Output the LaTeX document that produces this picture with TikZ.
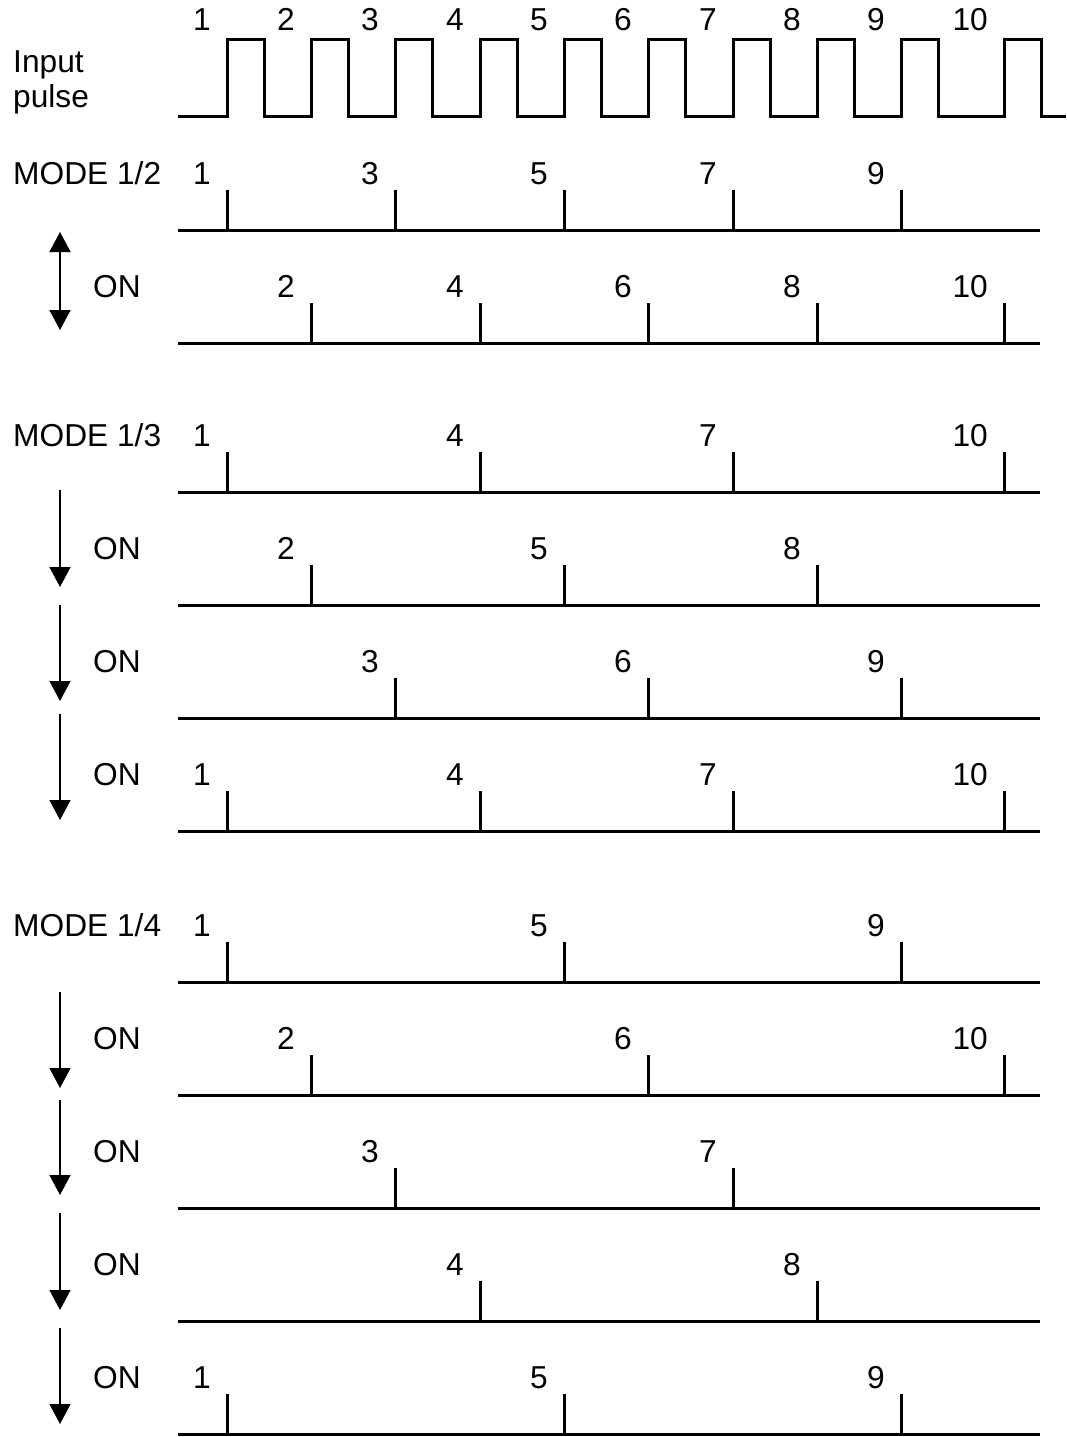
\documentclass[tikz,border=0pt]{standalone}
\usepackage{fontspec}
\setmainfont{Liberation Sans}
\usetikzlibrary{arrows.meta}
\begin{document}
\begin{tikzpicture}[x=1pt,y=-1pt,
  txt/.style={inner sep=0pt,font=\fontsize{31.7}{38}\selectfont},
  wave/.style={line width=3pt},
  onarrow/.style={line width=1.5pt,-{Triangle[length=20pt,width=21pt]}},
  botharrow/.style={line width=1.5pt,{Triangle[length=20pt,width=21pt]}-{Triangle[length=20pt,width=21pt]}}]
\useasboundingbox (0,0) rectangle (1066,1437);
% input pulse
\draw[wave] (178,116) foreach \e in {227,311,395,480,564,648,733,817,901,1004} { -- (\e,116) -- (\e,40) -- ({\e+37},40) -- ({\e+37},116) } -- (1066,116);
\foreach \i in {1,...,10} {
  \pgfmathsetmacro\ex{{227,311,395,480,564,648,733,817,901,1004}[\i-1]}
  \node[txt,anchor=base east] (p\i) at (\ex-16,31) {\i};
}
\node[txt,anchor=base west] (inp) at (13,72) {Input};
\node[txt,anchor=base west] (pls) at (13,107) {pulse};
% rows
\foreach \rb/\list [count=\r] in {230/{1,3,5,7,9},343/{2,4,6,8,10},492/{1,4,7,10},605/{2,5,8},718/{3,6,9},831/{1,4,7,10},982/{1,5,9},1095/{2,6,10},1208/{3,7},1321/{4,8},1434/{1,5,9}} {
  \draw[wave] (178,\rb) -- (1040,\rb);
  \foreach \i in \list {
    \pgfmathsetmacro\ex{{227,311,395,480,564,648,733,817,901,1004}[\i-1]}
    \draw[wave] (\ex,\rb) -- (\ex,\rb-40);
    \node[txt,anchor=base east] (n\r-\i) at (\ex-16,\rb-46) {\i};
  }
}
% mode labels
\node[txt,anchor=base west] (m2) at (13,184) {MODE 1/2};
\node[txt,anchor=base west] (m3) at (13,446) {MODE 1/3};
\node[txt,anchor=base west] (m4) at (13,936) {MODE 1/4};
\foreach \rb [count=\k] in {343,605,718,831,1095,1208,1321,1434} {
  \node[txt,anchor=base west] (on\k) at (93,\rb-46) {ON};
}
% arrows
\coordinate (a0s) at (60,232); \coordinate (a0e) at (60,330);
\draw[botharrow] (a0s) -- (a0e);
\foreach \s/\e [count=\k] in {490/587,605/701,714/820,992/1088,1100/1195,1213/1310,1328/1424} {
  \coordinate (a\k s) at (60,\s);
  \coordinate (a\k e) at (60,\e);
  \draw[onarrow] (a\k s) -- (a\k e);
}
\end{tikzpicture}
\end{document}
